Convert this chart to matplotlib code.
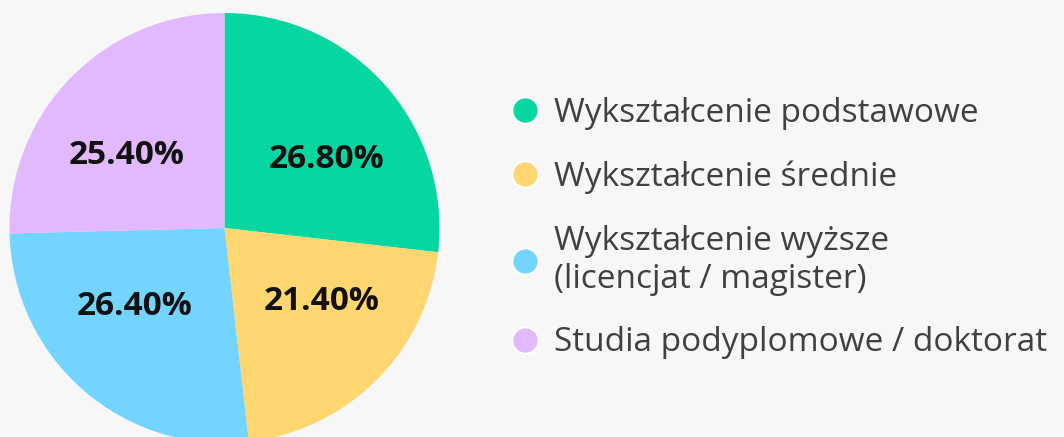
import matplotlib.pyplot as plt
from matplotlib.lines import Line2D

labels = ['Wykształcenie podstawowe', 'Wykształcenie średnie',
          'Wykształcenie wyższe\n(licencjat / magister)', 'Studia podyplomowe / doktorat']
values = [26.8, 21.4, 26.4, 25.4]
colors = ['#06D6A0', '#FFD670', '#73D5FF', '#E2B9FF']

plt.rcParams['font.family'] = ['Open Sans', 'DejaVu Sans']

fig = plt.figure(figsize=(10.64, 4.37), dpi=100)
fig.patch.set_facecolor('#F7F7F7')

# pie axes: centre ~ (224, 228) px, radius ~215 px
ax = fig.add_axes([9.5 / 1064, (209 - 215) / 437, 430 / 1064, 430 / 437])
ax.set_facecolor('none')
wedges, texts, autotexts = ax.pie(values, colors=colors, startangle=90, counterclock=False,
                                  radius=1, autopct='%.2f%%', pctdistance=0.58,
                                  wedgeprops=dict(linewidth=0),
                                  textprops=dict(fontsize=24, fontweight='bold', color='#111111'))
ax.set_xlim(-1, 1)
ax.set_ylim(-1, 1)
ax.set_aspect('equal')
ax.axis('off')
for w in wedges:
    w.set_clip_on(False)
# labels sit a bit flatter than the wedge mid-angle in the original
for t in autotexts:
    x, y = t.get_position()
    t.set_position((x * 1.1, y * 0.83))

handles = [Line2D([], [], linestyle='none', marker='o', markersize=19,
                  markerfacecolor=c, markeredgecolor='white', markeredgewidth=1.5)
           for c in colors]
leg = fig.legend(handles, labels, loc='center left', bbox_to_anchor=(477 / 1064, 1 - 228 / 437),
                 frameon=False, fontsize=24, labelspacing=0.92, handletextpad=0.3,
                 handlelength=1.1, labelcolor='#404040')

fig.savefig('out.png', dpi=100, facecolor=fig.get_facecolor())
